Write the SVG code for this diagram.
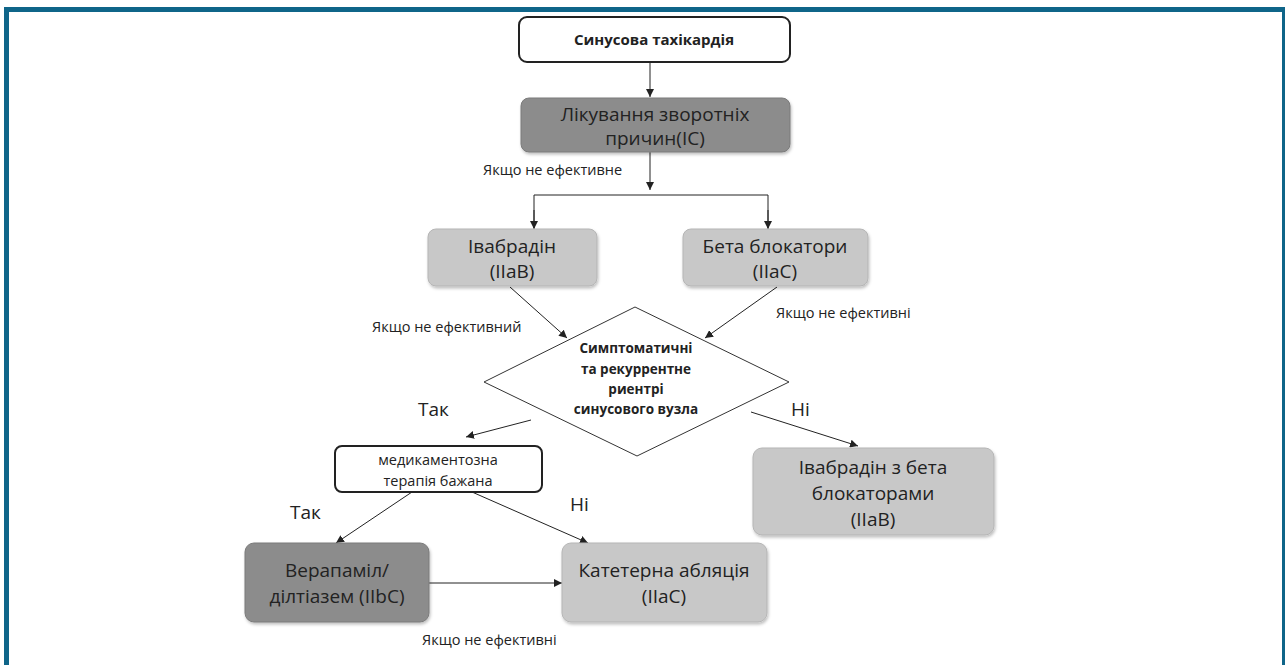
<svg xmlns="http://www.w3.org/2000/svg" width="1285" height="665" viewBox="0 0 1285 665">
  <style>
    text { font-family: "Open Sans", "Noto Sans", "DejaVu Sans", sans-serif; fill: #222; }
    .big { font-size: 19px; text-anchor: middle; }
    .lbl { font-size: 14.5px; }
    .yn { font-size: 19px; }
    .dia { font-size: 13.5px; font-weight: bold; text-anchor: middle; }
    .outline { fill: #fff; stroke: #222; stroke-width: 2; }
    .dark { fill: #8c8c8c; stroke: #7a7a7a; stroke-width: 1; filter: url(#shadow); }
    .light { fill: #c8c8c8; stroke: #b5b5b5; stroke-width: 1; filter: url(#shadow); }
    .conn { stroke: #222; stroke-width: 1; fill: none; }
  </style>
  <defs>
    <marker id="arrow" viewBox="0 0 10 10" refX="10" refY="5" markerWidth="8" markerHeight="8" orient="auto" markerUnits="userSpaceOnUse">
      <path d="M0,0 L10,5 L0,10 z" fill="#222"/>
    </marker>
    <filter id="shadow" x="-5%" y="-5%" width="112%" height="120%">
      <feDropShadow dx="1" dy="2" stdDeviation="1.5" flood-color="#000" flood-opacity="0.25"/>
    </filter>
  </defs>

  <!-- page background and frame -->
  <rect x="0" y="0" width="1285" height="665" fill="#fff"/>
  <rect x="4" y="7" width="1281" height="5" fill="#0f6589"/>
  <rect x="4" y="7" width="5" height="658" fill="#0f6589"/>
  <rect x="1282" y="7" width="3" height="658" fill="#0f6589"/>

  <!-- connectors -->
  <g id="connectors">
    <line class="conn" x1="650" y1="62" x2="650" y2="97" marker-end="url(#arrow)"/>
    <line class="conn" x1="650" y1="152" x2="650" y2="190" marker-end="url(#arrow)"/>
    <polyline class="conn" points="534,228 534,195 768,195 768,228"/>
    <line class="conn" x1="534" y1="210" x2="534" y2="229" marker-end="url(#arrow)"/>
    <line class="conn" x1="768" y1="210" x2="768" y2="229" marker-end="url(#arrow)"/>
    <line class="conn" x1="510" y1="287" x2="567" y2="338" marker-end="url(#arrow)"/>
    <line class="conn" x1="777" y1="287" x2="705" y2="338" marker-end="url(#arrow)"/>
    <line class="conn" x1="531" y1="420" x2="466" y2="437" marker-end="url(#arrow)"/>
    <line class="conn" x1="751" y1="412" x2="858" y2="446" marker-end="url(#arrow)"/>
    <line class="conn" x1="412" y1="492" x2="336" y2="543" marker-end="url(#arrow)"/>
    <line class="conn" x1="472" y1="492" x2="588" y2="543" marker-end="url(#arrow)"/>
    <line class="conn" x1="429" y1="583" x2="562" y2="583" marker-end="url(#arrow)"/>
  </g>

  <!-- connector labels -->
  <g id="labels">
    <text class="lbl" x="483" y="175">Якщо не ефективне</text>
    <text class="lbl" x="372" y="332">Якщо не ефективний</text>
    <text class="lbl" x="776" y="318">Якщо не ефективні</text>
    <text class="yn" x="418" y="416">Так</text>
    <text class="yn" x="791" y="416">Ні</text>
    <text class="yn" x="290" y="519">Так</text>
    <text class="yn" x="570" y="511">Ні</text>
    <text class="lbl" x="422" y="645">Якщо не ефективні</text>
  </g>

  <g id="node-start">
    <rect class="outline" x="519" y="17" width="271" height="45" rx="8"/>
    <text x="654" y="45" font-size="15" font-weight="bold" text-anchor="middle">Синусова тахікардія</text>
  </g>

  <g id="node-causes">
    <rect class="dark" x="521" y="98" width="269" height="54" rx="8"/>
    <text class="big" x="655" y="121">Лікування зворотніх</text>
    <text class="big" x="655" y="145">причин(IC)</text>
  </g>

  <g id="node-ivabradine">
    <rect class="light" x="428" y="229" width="169" height="57" rx="8"/>
    <text class="big" x="512" y="253">Івабрадін</text>
    <text class="big" x="512" y="278">(IIaB)</text>
  </g>

  <g id="node-beta">
    <rect class="light" x="683" y="229" width="185" height="57" rx="8"/>
    <text class="big" x="775" y="253">Бета блокатори</text>
    <text class="big" x="775" y="278">(IIaC)</text>
  </g>

  <g id="node-decision">
    <polygon points="635,307 789,382 637,456 484,382" fill="#fff" stroke="#333" stroke-width="1"/>
    <text class="dia" x="636" y="353">Симптоматичні</text>
    <text class="dia" x="636" y="374">та рекуррентне</text>
    <text class="dia" x="636" y="394">риентрі</text>
    <text class="dia" x="636" y="414">синусового вузла</text>
  </g>

  <g id="node-drug-therapy">
    <rect class="outline" x="335" y="446" width="207" height="46" rx="7"/>
    <text x="438" y="465" font-size="14.5" text-anchor="middle">медикаментозна</text>
    <text x="438" y="486" font-size="14.5" text-anchor="middle">терапія бажана</text>
  </g>

  <g id="node-verapamil">
    <rect class="dark" x="245" y="543" width="184" height="79" rx="9"/>
    <text class="big" x="337" y="577">Верапаміл/</text>
    <text class="big" x="337" y="603">ділтіазем (IIbC)</text>
  </g>

  <g id="node-ablation">
    <rect class="light" x="562" y="543" width="205" height="79" rx="9"/>
    <text class="big" x="664" y="577">Катетерна абляція</text>
    <text class="big" x="664" y="603">(IIaC)</text>
  </g>

  <g id="node-combo">
    <rect class="light" x="753" y="448" width="241" height="87" rx="9"/>
    <text class="big" x="873" y="474">Івабрадін з бета</text>
    <text class="big" x="873" y="500">блокаторами</text>
    <text class="big" x="873" y="526">(IIaB)</text>
  </g>
</svg>
